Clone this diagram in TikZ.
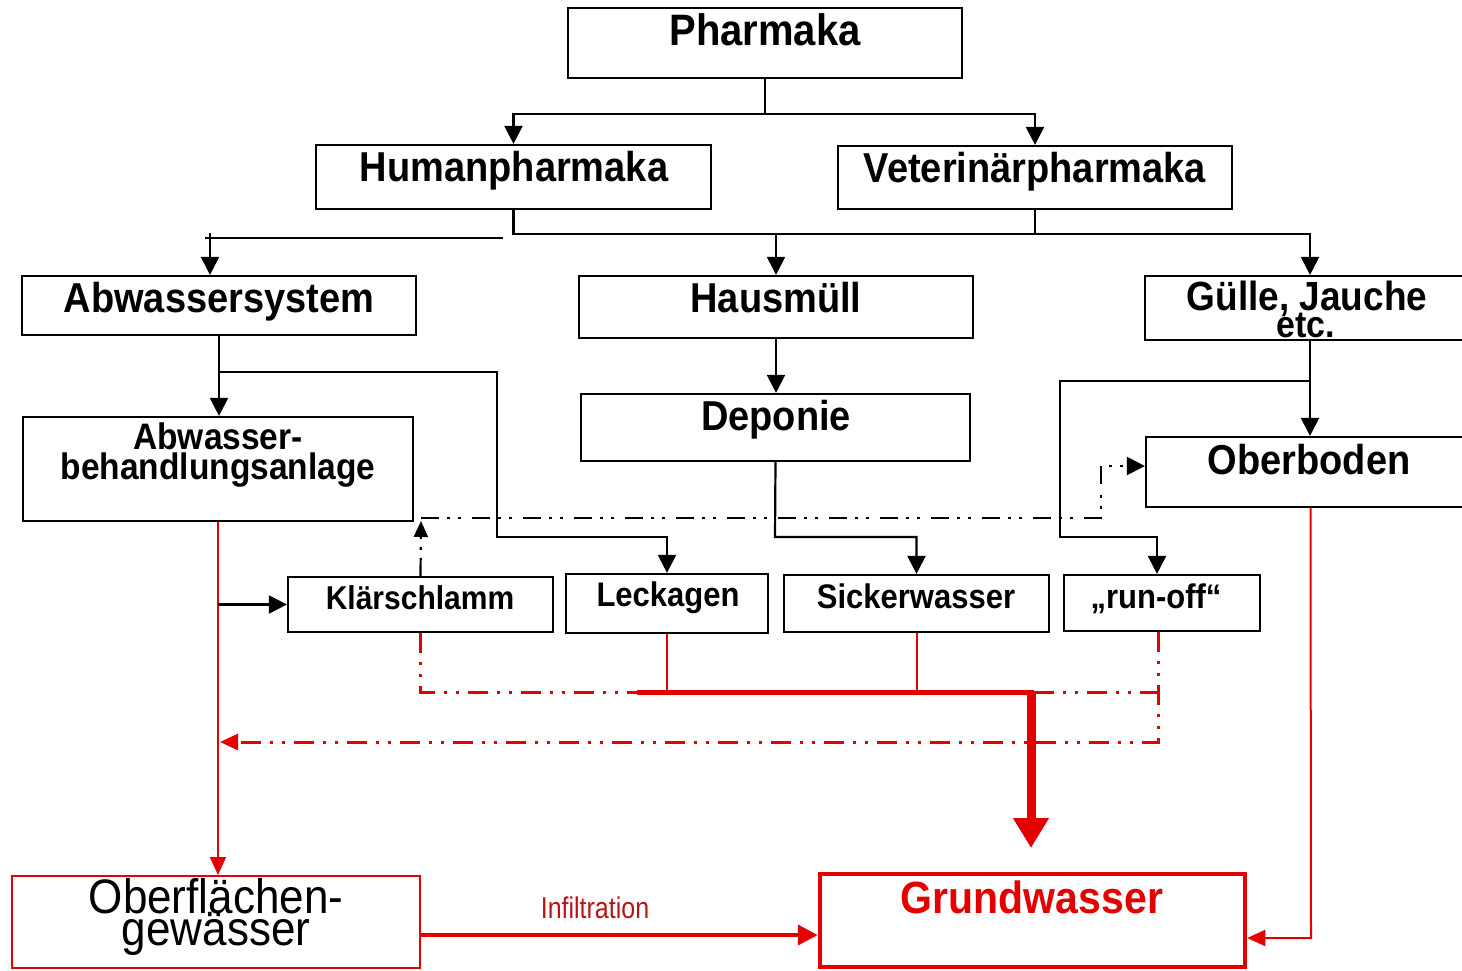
\documentclass[tikz,border=0pt]{standalone}
\usepackage{fontspec}
\usepackage{graphicx}
\setmainfont{Liberation Sans}
\usetikzlibrary{arrows.meta}
\definecolor{myred}{RGB}{228,0,0}
\definecolor{infred}{RGB}{185,20,20}
\newcommand{\tx}[1]{\scalebox{1}[1.1]{#1}}
\newcommand{\ty}[1]{\scalebox{1}[1.1]{#1}}
\begin{document}
\begin{tikzpicture}[x=1pt,y=-1pt,
  box/.style={draw, line width=2.2pt, inner sep=0pt},
  rbox/.style={draw=myred, line width=2pt, inner sep=0pt},
  gbox/.style={draw=myred, line width=4.5pt, inner sep=0pt},
  lbl/.style={inner sep=0pt, anchor=base, font=\bfseries\fontsize{38}{40}\selectfont},
  slbl/.style={inner sep=0pt, anchor=base, font=\bfseries\fontsize{31}{33}\selectfont},
  ln/.style={line width=2.2pt},
  arr/.style={line width=2.2pt, -{Triangle[length=18pt,width=18pt]}},
  dd/.style={line width=2.2pt, dash pattern=on 18pt off 8pt on 3pt off 8pt on 3pt off 11pt},
  rln/.style={draw=myred, line width=2pt},
  rarr/.style={draw=myred, line width=2pt, -{Triangle[length=18pt,width=16pt]}},
  rdd/.style={draw=myred, line width=3pt, dash pattern=on 20pt off 9pt on 3pt off 9pt on 3pt off 9pt},
]
\useasboundingbox (0,0) rectangle (1462,970);
\clip (0,0) rectangle (1462,970);
\fill[white] (0,0) rectangle (1462,970);

% boxes
\node[box, minimum width=394pt, minimum height=70pt] (pharma) at (765,43) {};
\node[box, minimum width=395pt, minimum height=64pt] (human) at (513.5,177) {};
\node[box, minimum width=394pt, minimum height=63pt] (vet) at (1035,177.5) {};
\node[box, minimum width=394pt, minimum height=59pt] (abws) at (219,305.5) {};
\node[box, minimum width=394pt, minimum height=62pt] (haus) at (776,307) {};
\node[box, minimum width=330pt, minimum height=64pt] (guelle) at (1310,308) {};
\node[box, minimum width=390pt, minimum height=104pt] (aba) at (218,469) {};
\node[box, minimum width=389pt, minimum height=67pt] (depo) at (775.5,427.5) {};
\node[box, minimum width=329pt, minimum height=70pt] (ober) at (1310.5,472) {};
\node[box, minimum width=265pt, minimum height=55pt] (klaer) at (420.5,604.5) {};
\node[box, minimum width=202pt, minimum height=59pt] (leck) at (667,603.5) {};
\node[box, minimum width=265pt, minimum height=57pt] (sick) at (916.5,603.5) {};
\node[box, minimum width=196pt, minimum height=56pt] (run) at (1162,603) {};
\node[rbox, minimum width=408pt, minimum height=92pt] (ogw) at (216,922) {};
\node[gbox, minimum width=425pt, minimum height=93pt] (gw) at (1032.5,920.5) {};

% labels
\node[lbl, font=\bfseries\fontsize{40}{42}\selectfont] (t-pharma) at (765,45) {\tx{Pharmaka}};
\node[lbl] (t-human) at (514,181) {\tx{Humanpharmaka}};
\node[lbl] (t-vet) at (1035,182) {\tx{Veterinärpharmaka}};
\node[lbl] (t-abws) at (219,312) {\tx{Abwassersystem}};
\node[lbl] (t-haus) at (776,312) {\tx{Hausmüll}};
\node[lbl, font=\bfseries\fontsize{37}{39}\selectfont] (t-guelle1) at (1307,310) {\tx{Gülle, Jauche}};
\node[lbl, font=\bfseries\fontsize{34}{36}\selectfont] (t-guelle2) at (1306,337) {\tx{etc.}};
\node[lbl, font=\bfseries\fontsize{33.5}{35}\selectfont] (t-aba1) at (218,449) {\tx{Abwasser-}};
\node[lbl, font=\bfseries\fontsize{33.5}{35}\selectfont] (t-aba2) at (218,479) {\tx{behandlungsanlage}};
\node[lbl] (t-depo) at (776,430) {\tx{Deponie}};
\node[lbl] (t-ober) at (1309,474) {\tx{Oberboden}};
\node[slbl, font=\bfseries\fontsize{30}{32}\selectfont] (t-klaer) at (420,609) {\tx{Klärschlamm}};
\node[slbl] (t-leck) at (668,606) {\tx{Leckagen}};
\node[slbl] (t-sick) at (916,608) {\tx{Sickerwasser}};
\node[slbl] (t-run) at (1156,608) {\tx{„run-off“}};
\node[inner sep=0pt, anchor=base, font=\fontsize{44}{46}\selectfont] (t-ogw1) at (216,913) {\ty{Oberflächen-}};
\node[inner sep=0pt, anchor=base, font=\fontsize{44}{46}\selectfont] (t-ogw2) at (216,945) {\ty{gewässer}};
\node[inner sep=0pt, anchor=base, text=myred, font=\bfseries\fontsize{41}{43}\selectfont] (t-gw) at (1032,913) {\tx{Grundwasser}};
\node[inner sep=0pt, anchor=base, text=infred, font=\fontsize{25}{27}\selectfont] (t-inf) at (595,918) {\scalebox{1}[1.2]{Infiltration}};

% black connectors
\draw[arr] (pharma.south) -- ++(0,35) -| (human.north);
\draw[arr] (pharma.south) -- ++(0,35) -| (vet.north);
\coordinate (hl) at (205,238);
\coordinate (hr) at (503,238);
\draw[ln] (hl) -- (hr);
\coordinate (at) at (210,233);
\draw[arr] (at) -- (at |- abws.north);
\draw[arr] (human.south) -- ++(0,24) coordinate (hj) -| (guelle.north);
\draw[ln] (vet.south) -- (vet.south |- hj);
\draw[arr] (haus.north |- hj) -- (haus.north);

\draw[arr] (abws.south) -- (abws.south |- aba.north);
\coordinate (a1) at (497,372);
\coordinate (a2) at (497,537);
\draw[arr] (abws.south |- a1) -- (a1) -- (a2) -| (leck.north);
\draw[arr] (haus.south) -- (haus.south |- depo.north);
\coordinate (d1) at (775,537);
\draw[arr] (depo.south) -- (d1) -| (sick.north);
\draw[arr] (guelle.south) -- (guelle.south |- ober.north);
\coordinate (g1) at (1060,381);
\coordinate (g2) at (1060,537);
\draw[arr] (guelle.south |- g1) -- (g1) -- (g2) -| ([xshift=-5pt]run.north);

% dash-dot black
\coordinate (k1) at (421,521);
\draw[dd, -{Triangle[length=16pt,width=14pt]}] (klaer.north) -- (k1);
\coordinate (k2) at (421,518);
\coordinate (k3) at (1101,518);
\coordinate (k4) at (1101,466);
\draw[dd, -{Triangle[length=18pt,width=18pt]}] (k2) -- (k3) -- (k4) -- ([yshift=6pt]ober.west);

% red connectors
\draw[rarr] (aba.south) -- (aba.south |- ogw.north);
\draw[arr] (aba.south |- klaer.west) -- (klaer.west);

\coordinate (r1) at (637,692);
\coordinate (r2) at (1034,692);
\coordinate (r3) at (1158,692);
\draw[rdd] (klaer.south) -- (klaer.south |- r1) -- (r1);
\draw[myred, line width=5pt] (r1) -- (r2);
\draw[rln] (leck.south) -- (leck.south |- r1);
\draw[rln] (sick.south) -- (sick.south |- r1);
\draw[rdd] (r2) -- (r3);
\coordinate (r4) at (1158,742);
\coordinate (r5) at (220,742);
\draw[rdd, -{Triangle[length=18pt,width=16pt]}] ([xshift=-4pt]run.south) -- (r4) -- (r5);
\coordinate (r6) at (1031,848);
\draw[myred, line width=9pt, -{Triangle[length=30pt,width=34pt]}] ([xshift=-3pt]r2) -- (r6);

\coordinate (o1) at (1311,938);
\draw[rarr] (ober.south) -- (o1) -- (gw.east |- o1);
\coordinate (i1) at (420,935);
\draw[myred, line width=4pt, -{Triangle[length=20pt,width=20pt]}] (ogw.east |- i1) -- (gw.west |- i1);
\end{tikzpicture}
\end{document}
